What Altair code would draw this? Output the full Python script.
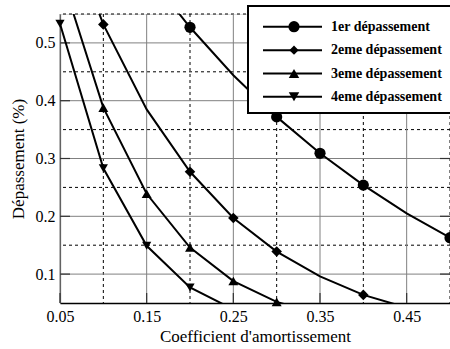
import altair as alt
import pandas as pd

# ---- data ----
zeta = [0.05, 0.10, 0.15, 0.20, 0.25, 0.30, 0.35, 0.40, 0.45, 0.50]
s1 = [0.855, 0.729, 0.621, 0.527, 0.444, 0.372, 0.309, 0.254, 0.205, 0.163]
s2 = [0.730, 0.532, 0.385, 0.277, 0.197, 0.139, 0.096, 0.064, 0.042, 0.027]
s3 = [0.624, 0.388, 0.239, 0.146, 0.088, 0.052, 0.030, 0.016, 0.009, 0.004]
s4 = [0.533, 0.283, 0.149, 0.077, 0.039, 0.019, 0.009, 0.004, 0.002, 0.001]
names = ["1er dépassement", "2eme dépassement", "3eme dépassement", "4eme dépassement"]
shapes = ["circle", "diamond", "triangle-up", "triangle-down"]
marker_sizes = [125, 85, 110, 110]
marker_zeta = [
    [0.20, 0.30, 0.35, 0.40, 0.50],
    [0.10, 0.20, 0.25, 0.30, 0.40],
    [0.10, 0.15, 0.20, 0.25, 0.30],
    [0.05, 0.10, 0.15, 0.20],
]
x_major = [0.05, 0.15, 0.25, 0.35, 0.45]
x_minor = [0.10, 0.20, 0.30, 0.40, 0.50]
y_major = [0.1, 0.2, 0.3, 0.4, 0.5]
y_minor = [0.15, 0.25, 0.35, 0.45, 0.55]

W, H = 390, 289
FONT = "Liberation Serif"

series = [s1, s2, s3, s4]
line_rows = []
mark_rows = []
for name, vals, mz in zip(names, series, marker_zeta):
    for z, v in zip(zeta, vals):
        line_rows.append({"series": name, "zeta": z, "value": v})
        if any(abs(z - m) < 1e-9 for m in mz):
            mark_rows.append({"series": name, "zeta": z, "value": v})
lines_df = pd.DataFrame(line_rows)
marks_df = pd.DataFrame(mark_rows)

xs = alt.Scale(domain=[0.05, 0.5], nice=False, zero=False)
ys = alt.Scale(domain=[0.05, 0.55], nice=False, zero=False)
xaxis = alt.Axis(values=x_major, format=".2f", ticks=False, grid=False,
                 domainColor="black", domainWidth=1.5, labelPadding=5,
                 labelFlush=False, labelOverlap=False,
                 labelFont=FONT, labelFontSize=16, labelColor="black",
                 title="Coefficient d'amortissement", titleFont=FONT,
                 titleFontSize=17, titleFontWeight="normal", titleColor="black",
                 titlePadding=4)
yaxis = alt.Axis(values=y_major, format=".1f", ticks=False, grid=False,
                 domainColor="#444444", domainWidth=1.2, labelPadding=5,
                 labelFlush=False, labelOverlap=False,
                 labelFont=FONT, labelFontSize=16, labelColor="black",
                 title="Dépassement (%)", titleFont=FONT, titleFontSize=17,
                 titleFontWeight="normal", titleColor="black", titlePadding=8)


def X(f):
    return alt.X(f, type="quantitative", scale=xs, axis=xaxis)


def Y(f):
    return alt.Y(f, type="quantitative", scale=ys, axis=yaxis)


dummy = pd.DataFrame({"a": [0]})

xmin_df = pd.DataFrame({"v": x_minor})
xmaj_df = pd.DataFrame({"v": x_major})
ymin_df = pd.DataFrame({"v": y_minor})
ymaj_df = pd.DataFrame({"v": y_major})

layers = []
# minor (dashed) grid
layers.append(alt.Chart(xmin_df).mark_rule(color="black", strokeWidth=1, strokeDash=[3, 3]).encode(x=X("v")))
layers.append(alt.Chart(ymin_df).mark_rule(color="black", strokeWidth=1, strokeDash=[3, 3]).encode(y=Y("v")))
# major (solid) grid
layers.append(alt.Chart(xmaj_df).mark_rule(color="#808080", strokeWidth=1).encode(x=X("v")))
layers.append(alt.Chart(ymaj_df).mark_rule(color="#808080", strokeWidth=1).encode(y=Y("v")))
# inward ticks
layers.append(alt.Chart(ymaj_df).mark_rule(color="#333333", strokeWidth=1.2).encode(
    y=Y("v"), x=alt.value(0), x2=alt.value(10)))
layers.append(alt.Chart(ymaj_df).mark_rule(color="#333333", strokeWidth=1.2).encode(
    y=Y("v"), x=alt.value(W - 10), x2=alt.value(W)))
layers.append(alt.Chart(xmaj_df).mark_rule(color="#333333", strokeWidth=1.2).encode(
    x=X("v"), y=alt.value(H - 10), y2=alt.value(H)))
# curves
layers.append(alt.Chart(lines_df).mark_line(color="black", strokeWidth=2, clip=True).encode(
    x=X("zeta"), y=Y("value"), detail="series:N"))
layers.append(alt.Chart(marks_df).mark_point(color="black", filled=True, opacity=1).encode(
    x=X("zeta"), y=Y("value"),
    shape=alt.Shape("series:N", scale=alt.Scale(domain=names, range=shapes), legend=None),
    size=alt.Size("series:N", scale=alt.Scale(domain=names, range=marker_sizes), legend=None)))

# manual legend
layers.append(alt.Chart(dummy).mark_rect(fill="white", stroke="black", strokeWidth=2).encode(
    x=alt.value(188), x2=alt.value(W + 5), y=alt.value(-8), y2=alt.value(99)))
row_y = [12.7, 36.2, 59.5, 82.8]
for i, name in enumerate(names):
    yy = row_y[i]
    layers.append(alt.Chart(dummy).mark_rule(color="black", strokeWidth=2).encode(
        x=alt.value(203), x2=alt.value(262), y=alt.value(yy)))
    layers.append(alt.Chart(dummy).mark_point(color="black", filled=True, opacity=1,
                                              shape=shapes[i], size=marker_sizes[i]).encode(
        x=alt.value(234), y=alt.value(yy)))
    layers.append(alt.Chart(dummy).mark_text(align="left", baseline="middle", font=FONT,
                                             fontSize=14, fontWeight="bold", color="black").encode(
        x=alt.value(271), y=alt.value(yy), text=alt.value(name)))

chart = alt.layer(*layers).properties(
    width=W, height=H,
    autosize=alt.AutoSizeParams(type="none"),
    padding={"left": 60, "top": 14, "right": 0, "bottom": 46},
).configure_view(stroke=None).configure(background="white")

chart.save("out.html", embed_options={"renderer": "svg", "actions": False})
